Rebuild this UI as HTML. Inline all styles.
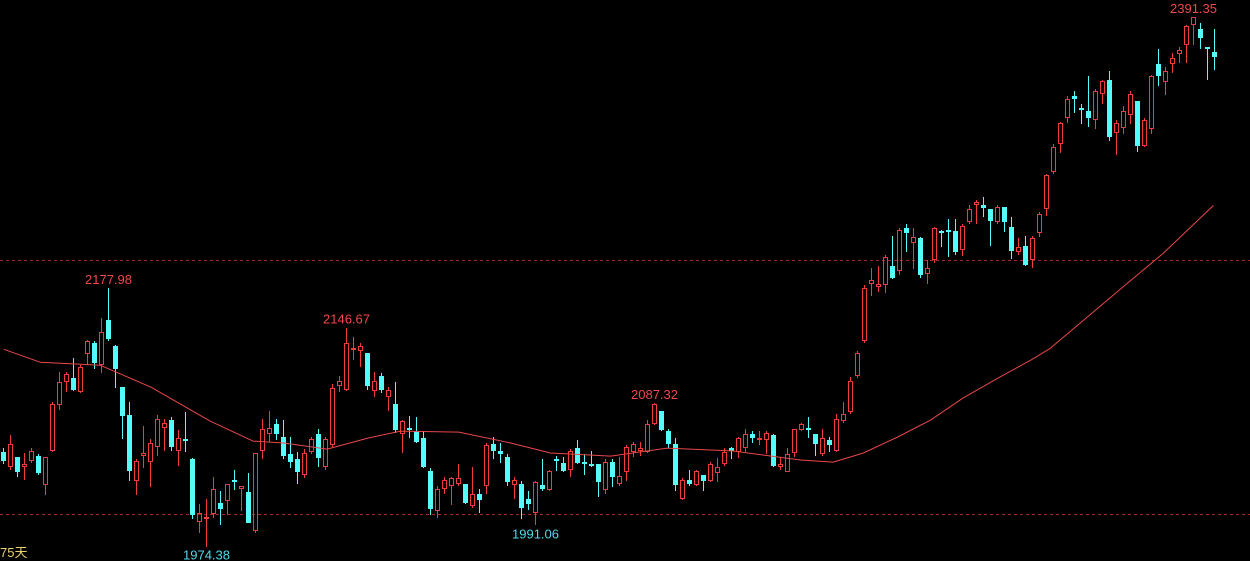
<!DOCTYPE html>
<html><head><meta charset="utf-8"><style>
html,body{margin:0;padding:0;background:#000;}
svg{display:block;}
text{font-family:"Liberation Sans","Noto Sans CJK SC",sans-serif;font-size:13px;}
</style></head><body>
<svg id="chart" width="1250" height="561" viewBox="0 0 1250 561" xmlns="http://www.w3.org/2000/svg">
<rect width="1250" height="561" fill="#000"/>
<line x1="0" x2="1250" y1="260.5" y2="260.5" stroke="#a02828" stroke-dasharray="3,3"/>
<line x1="0" x2="1250" y1="514.5" y2="514.5" stroke="#a02828" stroke-dasharray="3,3"/>
<g id="candles" shape-rendering="crispEdges"></g>
<polyline id="ma" fill="none" stroke="#e84848" stroke-width="1" stroke-linejoin="round"/>
<g id="labels"></g>
<text x="0" y="557" fill="#e8d070">75天</text>
</svg>
<script>
const openV=[2049,2037,2045,2037,2042,2046,2023,2050,2086,2104,2107,2096,2126,2135,2117,2153,2132,2100,2078,2026,2046,2041,2053,2068,2074,2050,2059,2043,1994,1996,2000,2009,2010,2027,2020,2017,1987,2050,2063,2071,2061,2047,2043,2031,2049,2063,2037,2054,2101,2098,2129,2128,2127,2097,2109,2092,2087,2063,2068,2065,2060,2034,2002,2020,2022,2024,2024,2006,2016,2022,2055,2050,2045,2023,2024,2012,2001,2023,2019,2043,2040,2035,2052,2041,2039,2039,2019,2041,2024,2033,2049,2050,2049,2071,2081,2065,2055,2012,2027,2023,2031,2026,2032,2039,2052,2049,2052,2063,2058,2058,2062,2037,2033,2048,2066,2068,2063,2047,2058,2050,2073,2080,2109,2136,2181,2179,2180,2195,2191,2225,2213,2217,2189,2200,2223,2224,2223,2208,2230,2243,2243,2240,2230,2242,2226,2206,2211,2200,2221,2240,2269,2291,2312,2329,2320,2317,2310,2331,2342,2300,2304,2314,2325,2290,2303,2354,2340,2354,2362,2369,2385,2382,2368,2364];
const highV=[2052,2062,2045,2048,2052,2047,2045,2088,2112,2112,2123,2117,2137,2136,2154,2177.98,2133,2100,2088,2043,2069,2059,2078,2075,2076,2066,2080,2044,2008,2012,2029,2018,2024,2035,2022,2032,2048,2075,2081,2075,2074,2061,2049,2051,2061,2067,2061,2102,2109,2146.67,2139,2135,2127,2112,2111,2100,2104,2074,2077,2076,2065,2036,2022,2029,2029,2039,2024,2037,2020,2056,2061,2056,2047,2029,2026,2018,2026,2043,2035,2046,2045,2051,2058,2047,2050,2039,2043,2043,2045,2054,2057,2057,2074,2087.32,2081,2067,2060,2028,2035,2035,2031,2041,2044,2052,2053,2061,2067,2065,2065,2065,2063,2045,2052,2067,2072,2076,2063,2067,2061,2079,2088,2108,2128,2180,2194,2195,2204,2219,2225,2228,2225,2218,2200,2226,2224,2232,2232,2228,2243,2247,2250,2240,2243,2242,2234,2217,2219,2219,2238,2268,2291,2309,2329,2333,2323,2345,2335,2342,2349,2310,2321,2333,2325,2312,2346,2366,2352,2363,2368,2385,2391.35,2387,2368,2382];
const lowV=[2039,2035,2029,2027,2040,2031,2015,2049,2082,2096,2097,2095,2117,2114,2111,2136,2099,2059,2026,2015,2036,2021,2046,2050,2050,2038,2049,1996,1985,1974.38,1997,1991,1999,2019,2002,1993,1985,2043,2057,2058,2043,2036,2024,2028,2047,2037,2035,2053,2096,2097,2121,2116,2098,2092,2095,2081,2064,2048,2060,2056,2036,1999,1997,2016,2007,2022,2008,2005,2001,2016,2043,2040,2022,2012,1996,2003,1991.06,2018,2018,2034,2033,2029,2039,2031,2037,2013,2016,2021,2022,2026,2045,2046,2048,2070,2065,2052,2018,2011,2022,2022,2018,2025,2025,2038,2043,2044,2049,2056,2054,2047,2037,2035,2033,2045,2065,2060,2046,2046,2049,2049,2072,2079,2107,2135,2172,2175,2174,2185,2188,2206,2193,2186,2181,2198,2210,2202,2204,2203,2228,2228,2234,2211,2228,2222,2201,2204,2195,2194,2218,2235,2268,2284,2308,2316,2307,2305,2303,2323,2294,2283,2299,2307,2285,2289,2299,2337,2330,2347,2355,2355,2369,2366,2342,2350];
const closeV=[2042,2055,2033,2039,2050,2032,2045,2087,2104,2110,2098,2116,2136,2119,2143,2138,2114,2077,2034,2042,2048,2056,2075,2072,2053,2060,2058,1999,2001,1998,2020,2004,2024,2025,2022,1993,2048,2067,2068,2063,2046,2041,2033,2048,2059,2044,2059,2099,2105,2135,2131,2132,2101,2105,2098,2098,2066,2073,2067,2057,2037,2004,2020,2027,2028,2028,2009,2016,2011,2054,2050,2047,2025,2027,2005,2008,2025,2020,2034,2042,2034,2050,2040,2039,2038,2025,2041,2029,2030,2053,2055,2052,2071,2087,2066,2055,2023,2027,2024,2034,2026,2039,2037,2049,2050,2060,2063,2060,2060,2064,2038,2039,2047,2067,2071,2067,2055,2060,2054,2075,2079,2105,2127,2178,2184,2181,2202,2186,2224,2221,2218,2188,2194,2225,2222,2223,2206,2227,2240,2246,2241,2231,2242,2230,2207,2210,2196,2217,2236,2267,2289,2308,2327,2327,2318,2312,2333,2341,2297,2308,2317,2331,2290,2310,2345,2345,2349,2359,2365,2384,2391,2375,2367,2360];
const maIdx=[0,5.2,13.8,21,29.5,35.6,40,46.2,52,56.7,65,72.4,78.1,86.7,94.8,104.2,113.8,118.5,122.8,127.7,132.4,137,142,146.7,149.5,161,165.6,172.8];
const maVal=[2129.7,2119.5,2117.1,2099.9,2073.1,2057.4,2055.9,2051.1,2059.8,2065.3,2064.5,2055.9,2048,2045.6,2051.9,2049.6,2042.5,2040.9,2048,2060.6,2073.9,2091.2,2106.9,2121.1,2130.5,2183.9,2205.1,2242.9];
const labelIdx=[15,49,93,170,29,76];
const labelText=["2177.98","2146.67","2087.32","2391.35","1974.38","1991.06"];
const labelIsHigh=[true,true,true,true,false,false];

const NS="http://www.w3.org/2000/svg";
const UP="#f03c3c", DOWN="#54fcfc";
function xAt(i){return Math.round(3.3+i*7);}
function yAt(p){return 514-(p-2000)*1.27;}

const g=document.getElementById('candles');
for(let i=0;i<openV.length;i++){
  const o=openV[i],c=closeV[i],h=highV[i],l=lowV[i];
  const up=c>=o, col=up?UP:DOWN, cx=xAt(i);
  const yt=Math.round(yAt(Math.max(o,c))), yb=Math.round(yAt(Math.min(o,c)));
  const yh=Math.round(yAt(h)), yl=Math.round(yAt(l));
  const grp=document.createElementNS(NS,'g');
  
  
  const w1=document.createElementNS(NS,'rect');
  w1.setAttribute('x',cx);w1.setAttribute('y',yh);w1.setAttribute('width',1);w1.setAttribute('height',Math.max(yt-yh,0));
  w1.setAttribute('fill',col);
  
  
  const w2=document.createElementNS(NS,'rect');
  w2.setAttribute('x',cx);w2.setAttribute('y',yb);w2.setAttribute('width',1);w2.setAttribute('height',Math.max(yl-yb,0));
  w2.setAttribute('fill',col);
  
  
  grp.appendChild(w1);grp.appendChild(w2);
  const hgt=Math.max(yb-yt,1);
  if(up && hgt>2){
    const parts=[[cx-2,yt,5,1],[cx-2,yt+hgt-1,5,1],[cx-2,yt,1,hgt],[cx+2,yt,1,hgt]];
    for(const p of parts){
      const r=document.createElementNS(NS,'rect');
      r.setAttribute('x',p[0]);r.setAttribute('y',p[1]);r.setAttribute('width',p[2]);r.setAttribute('height',p[3]);
      r.setAttribute('fill',col);
      
      
      grp.appendChild(r);
    }
  }else{
    const r=document.createElementNS(NS,'rect');
    r.setAttribute('x',cx-2);r.setAttribute('y',yt);r.setAttribute('width',5);r.setAttribute('height',Math.max(hgt,2));
    r.setAttribute('fill',col);
    
    
    grp.appendChild(r);
  }
  g.appendChild(grp);
}

const pts=[];
for(let k=0;k<maIdx.length;k++){pts.push((3.8+maIdx[k]*7).toFixed(1)+','+yAt(maVal[k]).toFixed(1));}
document.getElementById('ma').setAttribute('points',pts.join(' '));

const lg=document.getElementById('labels');
for(let k=0;k<labelIdx.length;k++){
  const i=labelIdx[k];
  const t=document.createElementNS(NS,'text');
  t.setAttribute('x',xAt(i)+0.5);
  t.setAttribute('text-anchor','middle');
  if(labelIsHigh[k]){t.setAttribute('y',yAt(highV[i])-4);t.setAttribute('fill','#f04848');}
  else{t.setAttribute('y',yAt(lowV[i])+13);t.setAttribute('fill','#54d8e8');}
  t.textContent=labelText[k];
  
  
  lg.appendChild(t);
}
</script>
</body></html>
